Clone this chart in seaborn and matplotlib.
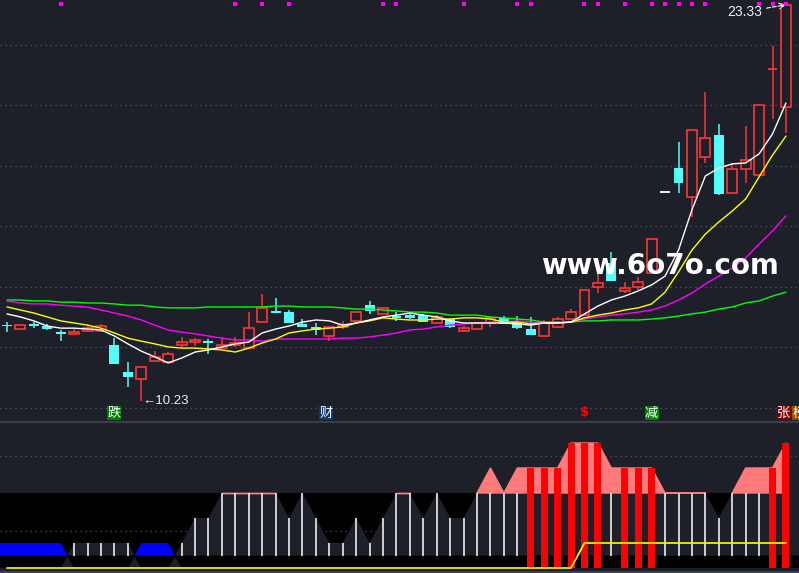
import numpy as np
import pandas as pd
import matplotlib
matplotlib.use('Agg')
import matplotlib.pyplot as plt
import matplotlib.transforms as mtransforms
import seaborn as sns

##### candles (price) #####
opens = [12.73, 12.61, 12.78, 12.71, 12.51, 12.45, 12.55, 12.55, 12.08, 11.19,
         10.96, 11.55, 11.52, 12.08, 12.18, 12.21, 11.98, 12.08, 11.98, 12.84,
         13.21, 13.17, 12.78, 12.68, 12.38, 12.68, 12.88, 13.40, 13.11, 13.04,
         13.07, 13.07, 12.81, 12.94, 12.55, 12.61, 12.81, 12.98, 12.84, 12.61,
         12.38, 12.68, 12.94, 13.07, 14.00, 14.79, 13.87, 14.00, 14.46, 17.14,
         17.93, 16.98, 18.30, 19.02, 17.11, 17.90, 17.70, 21.21, 19.95]
highs = [12.84, 12.78, 12.84, 12.78, 12.58, 12.61, 12.71, 12.78, 12.31, 11.52,
         11.36, 11.88, 11.85, 12.35, 12.31, 12.28, 12.35, 12.35, 13.17, 13.77,
         13.64, 13.24, 12.94, 12.81, 12.68, 12.88, 13.17, 13.54, 13.31, 13.17,
         13.14, 13.11, 13.07, 12.98, 12.71, 12.81, 12.98, 13.04, 13.04, 13.01,
         12.91, 13.01, 13.27, 13.90, 14.43, 15.16, 14.17, 14.33, 15.59, 17.14,
         18.79, 19.19, 20.45, 19.39, 18.10, 19.32, 20.02, 21.97, 23.33]
lows = [12.51, 12.61, 12.64, 12.58, 12.21, 12.45, 12.51, 12.51, 11.45, 10.69,
        10.23, 11.55, 11.52, 12.02, 12.05, 11.79, 11.98, 12.02, 11.98, 12.84,
        13.14, 12.81, 12.68, 12.41, 12.21, 12.61, 12.78, 13.11, 13.11, 12.88,
        12.94, 12.84, 12.81, 12.64, 12.51, 12.58, 12.68, 12.78, 12.61, 12.41,
        12.38, 12.64, 12.94, 13.07, 13.80, 14.20, 13.80, 13.90, 14.46, 17.14,
        17.11, 16.31, 18.10, 17.04, 17.11, 17.44, 17.70, 19.55, 19.09]
closes = [12.70, 12.74, 12.71, 12.61, 12.45, 12.51, 12.64, 12.71, 11.45, 11.02,
          11.36, 11.69, 11.79, 12.18, 12.25, 12.15, 12.08, 12.15, 12.64, 13.31,
          13.14, 12.81, 12.68, 12.58, 12.68, 12.74, 13.17, 13.21, 13.31, 12.98,
          12.98, 12.84, 13.01, 12.68, 12.64, 12.81, 12.98, 12.78, 12.64, 12.41,
          12.81, 12.94, 13.17, 13.90, 14.13, 14.20, 13.97, 14.17, 15.59, 17.14,
          17.44, 19.19, 18.93, 17.07, 17.90, 18.20, 20.02, 21.21, 23.33]

## moving averages
ma5 = [13.11, 13.01, 12.88, 12.71, 12.64, 12.64, 12.61, 12.58, 12.38, 12.12,
       11.88, 11.69, 11.49, 11.65, 11.85, 11.92, 12.02, 12.12, 12.18, 12.48,
       12.61, 12.71, 12.84, 12.91, 12.88, 12.74, 12.81, 12.91, 13.01, 13.07,
       13.14, 13.07, 13.01, 12.88, 12.81, 12.81, 12.81, 12.81, 12.78, 12.74,
       12.81, 12.81, 12.84, 13.11, 13.37, 13.57, 13.70, 13.87, 14.07, 14.36,
       15.22, 16.55, 17.67, 17.93, 18.07, 18.10, 18.40, 19.06, 20.08]
ma10 = [13.34, 13.24, 13.14, 13.01, 12.88, 12.81, 12.74, 12.64, 12.48, 12.31,
        12.21, 12.12, 12.02, 11.98, 11.98, 11.95, 11.92, 11.85, 11.98, 12.15,
        12.28, 12.48, 12.55, 12.61, 12.64, 12.68, 12.81, 12.88, 12.98, 12.94,
        12.91, 12.91, 12.94, 12.94, 12.98, 12.98, 12.94, 12.84, 12.84, 12.78,
        12.81, 12.81, 12.84, 12.98, 13.07, 13.14, 13.24, 13.31, 13.44, 13.83,
        14.50, 15.22, 15.75, 16.15, 16.51, 16.91, 17.64, 18.36, 18.99]
ma20 = [13.54, 13.47, 13.44, 13.44, 13.40, 13.37, 13.34, 13.24, 13.14, 13.04,
        12.91, 12.74, 12.58, 12.51, 12.45, 12.38, 12.31, 12.25, 12.25, 12.21,
        12.28, 12.28, 12.28, 12.28, 12.28, 12.31, 12.31, 12.35, 12.41, 12.48,
        12.58, 12.61, 12.68, 12.74, 12.78, 12.81, 12.84, 12.84, 12.88, 12.84,
        12.81, 12.81, 12.84, 12.94, 13.01, 13.07, 13.11, 13.17, 13.24, 13.37,
        13.57, 13.80, 14.10, 14.36, 14.63, 14.96, 15.42, 15.85, 16.35]
ma60 = [13.57, 13.57, 13.54, 13.54, 13.50, 13.50, 13.47, 13.47, 13.44, 13.40,
        13.40, 13.34, 13.31, 13.31, 13.31, 13.34, 13.34, 13.34, 13.34, 13.34,
        13.37, 13.37, 13.34, 13.34, 13.34, 13.31, 13.27, 13.27, 13.24, 13.21,
        13.17, 13.17, 13.14, 13.07, 13.07, 13.07, 13.01, 12.98, 12.94, 12.91,
        12.84, 12.84, 12.84, 12.88, 12.88, 12.91, 12.91, 12.91, 12.94, 12.98,
        13.04, 13.11, 13.17, 13.27, 13.34, 13.47, 13.54, 13.70, 13.83]

top_dots = [4, 17, 19, 21, 28, 29, 34, 38, 39, 43, 44, 46, 48, 49, 50, 51, 52, 56, 57, 58]

##### lower indicator #####
sig = [0, 0, 0, 0, 0, 1, 1, 1, 1, 1,
       0, 0, 0, 1, 2, 2, 3, 3, 3, 3,
       3, 2, 3, 2, 1, 1, 2, 1, 2, 3,
       3, 2, 3, 2, 2, 3, 4, 3, 4, 4,
       4, 4, 5, 5, 5, 4, 4, 4, 4, 3,
       3, 3, 3, 2, 3, 4, 4, 4, 5]
red_bars = [39, 40, 41, 42, 43, 44, 46, 47, 48, 57, 58]
yline = [0, 0, 0, 0, 0, 0, 0, 0, 0, 0,
         0, 0, 0, 0, 0, 0, 0, 0, 0, 0,
         0, 0, 0, 0, 0, 0, 0, 0, 0, 0,
         0, 0, 0, 0, 0, 0, 0, 0, 0, 0,
         0, 0, 0, 1, 1, 1, 1, 1, 1, 1,
         1, 1, 1, 1, 1, 1, 1, 1, 1]

sns.set_theme(style='dark')
plt.rcParams['font.family'] = ['Noto Sans CJK SC', 'DejaVu Sans']

bg = '#1d2029'
red = '#ff3535'
cyan = '#54fcfc'
gridc = '#555a66'

fig = plt.figure(figsize=(7.99, 5.73), dpi=100, facecolor=bg)
ax = fig.add_axes([0, 153 / 573, 1, 420 / 573])
ax2 = fig.add_axes([0, 0, 1, 153 / 573])
x0, x1 = -7 / 13.43, (799 - 7) / 13.43

n = len(closes)
x = np.arange(n)
o = np.array(opens); h = np.array(highs); l = np.array(lows); c = np.array(closes)
lo = np.minimum(o, c); hi = np.maximum(o, c)
up = c > o
dn = c < o
fl = c == o
w = 0.74

for p in range(10, 23, 2):
    ax.axhline(p, color=gridc, lw=0.9, ls=(0, (1, 3)), zorder=0)

# red hollow candles
ax.vlines(x[up], hi[up], h[up], color=red, lw=1.1, zorder=2)
ax.vlines(x[up], l[up], lo[up], color=red, lw=1.1, zorder=2)
ax.bar(x[up], (hi - lo)[up], bottom=lo[up], width=w, facecolor=bg, edgecolor=red, lw=1.2, zorder=2)
# cyan solid candles
ax.vlines(x[dn], l[dn], h[dn], color=cyan, lw=1.1, zorder=2)
ax.bar(x[dn], (hi - lo)[dn], bottom=lo[dn], width=w, color=cyan, lw=0, zorder=2)
# doji
for i in x[fl]:
    col = 'white' if h[i] == l[i] else red
    ax.vlines(i, l[i], h[i], color=col, lw=1.1, zorder=2)
    ax.hlines(o[i], i - w / 2, i + w / 2, color=col, lw=1.3, zorder=2)

ma_df = pd.DataFrame({'bar': np.tile(x, 4),
                      'price': np.concatenate([ma5, ma10, ma20, ma60]),
                      'line': np.repeat(['MA5', 'MA10', 'MA20', 'MA60'], n)})
sns.lineplot(data=ma_df, x='bar', y='price', hue='line',
             hue_order=['MA60', 'MA20', 'MA10', 'MA5'],
             palette={'MA5': '#ffffff', 'MA10': '#ffff00', 'MA20': '#ff00ff', 'MA60': '#00ff00'},
             linewidth=1, legend=False, estimator=None, ax=ax, zorder=3)

trans = mtransforms.blended_transform_factory(ax.transData, ax.transAxes)
ax.scatter(top_dots, [1 - 3.5 / 420] * len(top_dots), marker='s', s=9, color='#ff00ff',
           linewidths=0, transform=trans, zorder=4)

numfont = ['Liberation Sans', 'DejaVu Sans']
ax.annotate('←10.23', xy=(10, 10.23), xytext=(1, 0), textcoords='offset points',
            ha='left', va='center', color='#e8eef8', fontsize=9.5, family=numfont)
ax.annotate('23.33', xy=(58, 23.33), xytext=(56.2, 23.09), textcoords='data',
            ha='right', va='center', color='#e8eef8', fontsize=10, family=numfont,
            arrowprops=dict(arrowstyle='->', color='white', lw=0.8, ls='--',
                            shrinkA=1, shrinkB=0))

lab_y = 9.835
lab_fs = 9.5
ax.text(7.95, lab_y, '跌', color='white', fontsize=lab_fs, ha='center', va='center',
        bbox=dict(boxstyle='square,pad=0.02', fc='#008000', ec='none'))
ax.text(23.75, lab_y, '财', color='white', fontsize=lab_fs, ha='center', va='center',
        bbox=dict(boxstyle='square,pad=0.02', fc='#0f3a6a', ec='none'))
ax.text(43.0, lab_y, '$', color='#ff0000', fontsize=9.5, ha='center', va='center',
        fontweight='bold', family=['DejaVu Sans'])
ax.text(48.0, lab_y, '减', color='white', fontsize=lab_fs, ha='center', va='center',
        bbox=dict(boxstyle='square,pad=0.02', fc='#008000', ec='none'))
ax.text(57.85, lab_y, '张', color='white', fontsize=lab_fs, ha='center', va='center',
        bbox=dict(boxstyle='square,pad=0.02', fc='#800000', ec='none'))
ax.text(58.5, lab_y, '榜', color='white', fontsize=lab_fs, ha='left', va='center',
        bbox=dict(boxstyle='square,pad=0.02', fc='#8b5200', ec='none'))

ax.set_xlim(x0, x1)
ax.set_ylim(10 - 12 / 30.25, 10 + 408 / 30.25)
ax.axis('off')

fig.text(660 / 799, 1 - 266 / 573, 'www.6o7o.com', color='white', fontsize=20,
         fontweight='bold', ha='center', va='center', family=['DejaVu Sans'], zorder=10)

##### lower panel #####
s = np.array(sig, dtype=float)
mtn = np.where(s >= 1, np.minimum(s, 3), 0)
blu = np.where(s == 0, 1.0, 0.0)
xf = np.linspace(x0, x1, 3000)
mf = np.interp(xf, x, mtn)
bf = np.interp(xf, x, blu)
xp = np.linspace(x0, 58, 3000)
pf = np.interp(xp, x, s)
gap = np.clip(1 - np.maximum(mf, bf), 0, None) * 0.9

ax2.fill_between([x0, x1], 0, 3, color='black', lw=0, zorder=1)
ax2.fill_between(xf, 0.5, mf, where=mf > 0.5, color=bg, lw=0, zorder=2)
ax2.fill_between(xf, 0.5, bf, where=bf > 0.5, color='#0000ff', lw=0, zorder=2)
ax2.fill_between(xf, 0, gap, where=gap > 0, color=bg, lw=0, zorder=2)
ax2.fill_between(xp, 3, pf, where=pf >= 3, facecolor='#ff7b7b', edgecolor='#ff7b7b',
                 lw=1, zorder=2)
for g in (1.5, 4.5):
    ax2.axhline(g, color=gridc, lw=0.9, ls=(0, (1, 3)), zorder=1.5)

red_mask = np.isin(x, red_bars)
wmask = (s >= 1) & ~red_mask
ax2.vlines(x[wmask], 0.5, np.minimum(s, 3)[wmask], color='white', lw=1.1, zorder=3)
ax2.bar(x[red_mask], s[red_mask], bottom=0, width=0.52, color='#ff0000', lw=0, zorder=3)
ax2.plot(x, yline, color='#ffff00', lw=1.2, zorder=4)

ax2.axhline((568 - 421.5) / 25, color='#3b3f49', lw=1.5, zorder=5)
ax2.axhline((568 - 571.5) / 25, color='#3b3f49', lw=1.5, zorder=5)
ax2.set_xlim(x0, x1)
ax2.set_ylim((568 - 573) / 25, (568 - 420) / 25)
ax2.axis('off')

fig.savefig('out.png', dpi=100, facecolor=bg)
